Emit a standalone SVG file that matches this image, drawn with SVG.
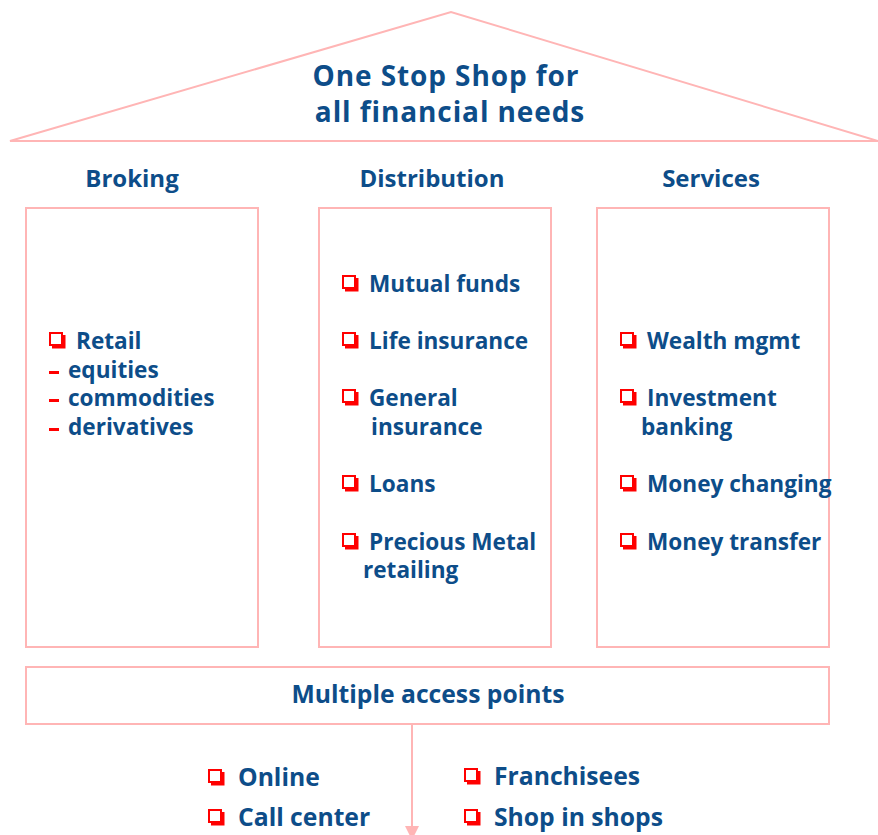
<svg xmlns="http://www.w3.org/2000/svg" xmlns:xlink="http://www.w3.org/1999/xlink" width="878" height="835" viewBox="0 0 878 835">
<style>
.ln{fill:none;stroke:#FFB5B5;stroke-width:2}
.t{font-family:"Open Sans","Liberation Sans",sans-serif;font-weight:bold;fill:#0D4D89}
.ti{font-size:28px;letter-spacing:0.9px;text-anchor:middle}
.h{font-size:24px;text-anchor:middle}
.i{font-size:22.6px}
.b{font-size:24.7px}
.d{fill:#FF0000}
</style>
<defs>
<g id="bul">
<rect x="1" y="1" width="12" height="12" fill="none" stroke="#FF0000" stroke-width="2"/>
<path d="M14,3 h2.5 v13.5 h-13.5 v-2.5 h11 z" fill="#FF0000"/>
</g>
<marker id="ar" viewBox="0 0 10 10" refX="10" refY="5" markerWidth="7" markerHeight="7" orient="auto" markerUnits="strokeWidth">
<path d="M0,0 L10,5 L0,10 z" fill="#FFB5B5"/>
</marker>
</defs>
<rect width="878" height="835" fill="#fff"/>
<g id="roof">
<polyline class="ln" points="878,141 451,12 10,141 878,141"/>
<text class="t ti" x="446" y="86">One Stop Shop for</text>
<text class="t ti" x="450" y="122">all financial needs</text>
</g>
<g id="connectors">
<line class="ln" x1="412" y1="724" x2="412" y2="840" marker-end="url(#ar)"/>
</g>
<g id="broking">
<text class="t h" x="132" y="187">Broking</text>
<rect class="ln" x="26" y="208" width="232" height="439"/>
<use xlink:href="#bul" x="49" y="332"/>
<text class="t i" x="76" y="349">Retail</text>
<rect class="d" x="49" y="371" width="10" height="3"/>
<text class="t i" x="68" y="378">equities</text>
<rect class="d" x="49" y="399" width="10" height="3"/>
<text class="t i" x="68" y="406">commodities</text>
<rect class="d" x="49" y="428" width="10" height="3"/>
<text class="t i" x="68" y="435">derivatives</text>
</g>
<g id="distribution">
<text class="t h" x="432" y="187">Distribution</text>
<rect class="ln" x="319" y="208" width="232" height="439"/>
<use xlink:href="#bul" x="342" y="275"/>
<text class="t i" x="369" y="292">Mutual funds</text>
<use xlink:href="#bul" x="342" y="332"/>
<text class="t i" x="369" y="349">Life insurance</text>
<use xlink:href="#bul" x="342" y="389"/>
<text class="t i" x="369" y="406">General</text>
<text class="t i" x="371" y="435">insurance</text>
<use xlink:href="#bul" x="342" y="475"/>
<text class="t i" x="369" y="492">Loans</text>
<use xlink:href="#bul" x="342" y="533"/>
<text class="t i" x="369" y="550">Precious Metal</text>
<text class="t i" x="363" y="578">retailing</text>
</g>
<g id="services">
<text class="t h" x="711" y="187">Services</text>
<rect class="ln" x="597" y="208" width="232" height="439"/>
<use xlink:href="#bul" x="620" y="332"/>
<text class="t i" x="647" y="349">Wealth mgmt</text>
<use xlink:href="#bul" x="620" y="389"/>
<text class="t i" x="647" y="406">Investment</text>
<text class="t i" x="641" y="435">banking</text>
<use xlink:href="#bul" x="620" y="475"/>
<text class="t i" x="647" y="492">Money changing</text>
<use xlink:href="#bul" x="620" y="533"/>
<text class="t i" x="647" y="550">Money transfer</text>
</g>
<g id="access">
<rect class="ln" x="26" y="667" width="803" height="57"/>
<text class="t b" x="428" y="703" text-anchor="middle">Multiple access points</text>
</g>
<g id="channels">
<use xlink:href="#bul" x="208" y="769"/>
<text class="t b" x="238" y="786">Online</text>
<use xlink:href="#bul" x="208" y="809"/>
<text class="t b" x="238" y="826">Call center</text>
<use xlink:href="#bul" x="464" y="768"/>
<text class="t b" x="494" y="785">Franchisees</text>
<use xlink:href="#bul" x="464" y="809"/>
<text class="t b" x="494" y="826">Shop in shops</text>
</g>
</svg>
